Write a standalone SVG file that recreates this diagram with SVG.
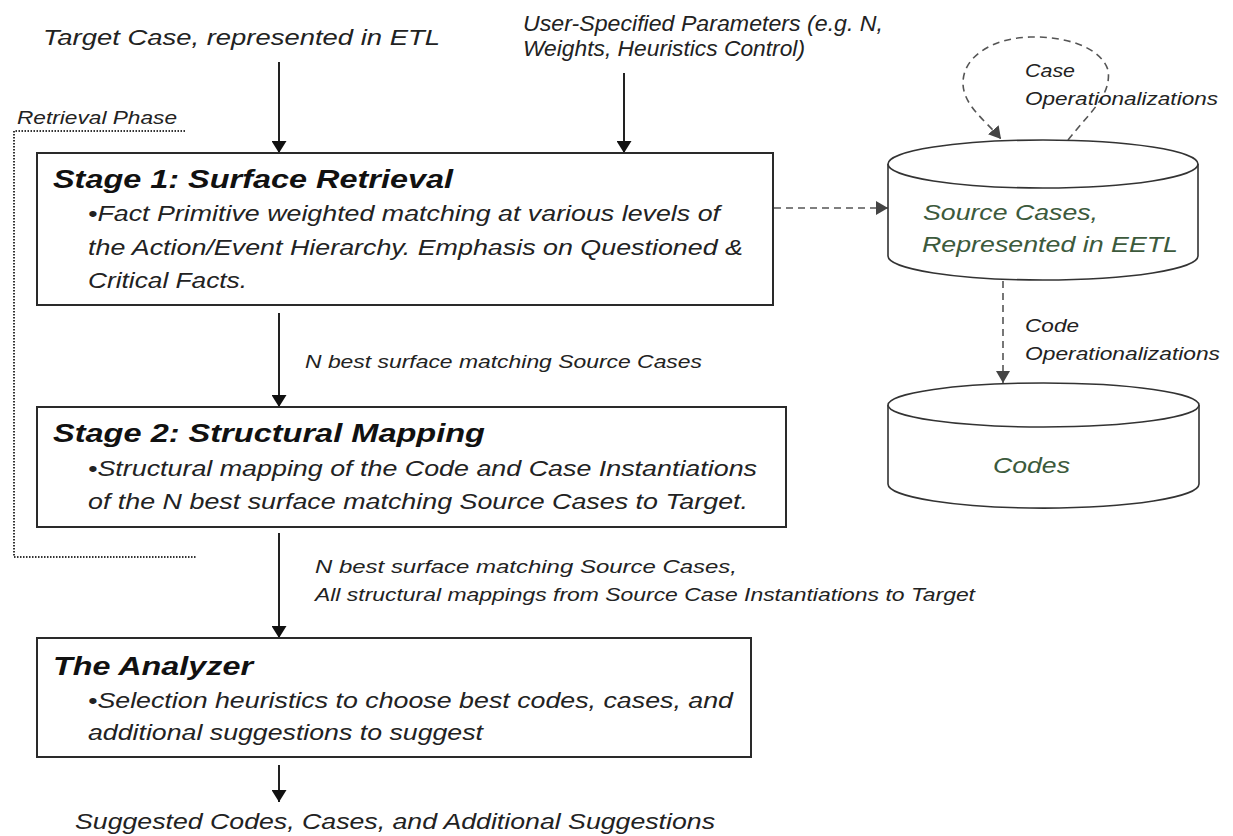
<svg xmlns="http://www.w3.org/2000/svg" width="1233" height="836" viewBox="0 0 1233 836">
<style>
text{font-family:"Liberation Sans",Arial,sans-serif;font-style:italic;fill:#222}
.lbl{font-size:22px}
.sm{font-size:19px}
.ttl{font-size:26px;font-weight:bold;fill:#111}
.body{font-size:22px}
.db{font-size:22px;fill:#3c5a3c}
.box{fill:#fff;stroke:#2a2a2a;stroke-width:2}
.cyl{fill:#fff;stroke:#333;stroke-width:1.6}
.arr{fill:none;stroke:#222;stroke-width:2;marker-end:url(#ah)}
.dash{fill:none;stroke:#555;stroke-width:1.6;stroke-dasharray:7,5;marker-end:url(#ahg)}
.dot{fill:none;stroke:#333;stroke-width:2;stroke-dasharray:1.5,1.5}
</style>
<defs>
<marker id="ah" markerUnits="userSpaceOnUse" markerWidth="12" markerHeight="15" refX="12" refY="7.5" orient="auto"><path d="M0,0 L12,7.5 L0,15 z" fill="#111"/></marker>
<marker id="ahg" markerUnits="userSpaceOnUse" markerWidth="12" markerHeight="14" refX="12" refY="7" orient="auto"><path d="M0,0 L12,7 L0,14 z" fill="#444"/></marker>
</defs>
<rect width="1233" height="836" fill="#fff"/>

<g id="inputs">
<text class="lbl" x="43" y="45" textLength="397" lengthAdjust="spacingAndGlyphs">Target Case, represented in ETL</text>
<text class="lbl" x="523" y="31" textLength="360" lengthAdjust="spacingAndGlyphs">User-Specified Parameters (e.g. N,</text>
<text class="lbl" x="523" y="56" textLength="282" lengthAdjust="spacingAndGlyphs">Weights, Heuristics Control)</text>
</g>

<g id="retrieval-phase">
<path class="dot" d="M185,131 H14 V557 H197"/>
<text class="sm" x="17" y="124" textLength="160" lengthAdjust="spacingAndGlyphs">Retrieval Phase</text>
</g>

<g id="connectors">
<line class="arr" x1="279" y1="62" x2="279" y2="153"/>
<line class="arr" x1="624" y1="73" x2="624" y2="153"/>
<line class="arr" x1="279" y1="313" x2="279" y2="407"/>
<line class="arr" x1="279" y1="533" x2="279" y2="638"/>
<line class="arr" x1="279" y1="765" x2="279" y2="802"/>
<line class="dash" x1="774" y1="208" x2="888" y2="208"/>
<path class="dash" d="M1068,140 C1090,112 1112,95 1108,70 C1100,45 1060,36 1030,37 C995,38 963,55 963,83 C963,105 985,120 1001,139"/>
<line class="dash" x1="1003" y1="281" x2="1003" y2="383"/>
<text class="sm" x="305" y="368" textLength="397" lengthAdjust="spacingAndGlyphs">N best surface matching Source Cases</text>
<text class="sm" x="315" y="573" textLength="422" lengthAdjust="spacingAndGlyphs">N best surface matching Source Cases,</text>
<text class="sm" x="315" y="601" textLength="660" lengthAdjust="spacingAndGlyphs">All structural mappings from Source Case Instantiations to Target</text>
<text class="sm" x="1025" y="77" textLength="50" lengthAdjust="spacingAndGlyphs">Case</text>
<text class="sm" x="1025" y="105" textLength="193" lengthAdjust="spacingAndGlyphs">Operationalizations</text>
<text class="sm" x="1025" y="332" textLength="54" lengthAdjust="spacingAndGlyphs">Code</text>
<text class="sm" x="1025" y="360" textLength="195" lengthAdjust="spacingAndGlyphs">Operationalizations</text>
</g>

<g id="stage1">
<rect class="box" x="37" y="153" width="736" height="152"/>
<text class="ttl" x="53" y="188" textLength="400" lengthAdjust="spacingAndGlyphs">Stage 1: Surface Retrieval</text>
<text class="body" x="88" y="221" textLength="632" lengthAdjust="spacingAndGlyphs">•Fact Primitive weighted matching at various levels of</text>
<text class="body" x="88" y="255" textLength="655" lengthAdjust="spacingAndGlyphs">the Action/Event Hierarchy. Emphasis on Questioned &amp;</text>
<text class="body" x="88" y="288" textLength="159" lengthAdjust="spacingAndGlyphs">Critical Facts.</text>
</g>

<g id="stage2">
<rect class="box" x="37" y="407" width="749" height="120"/>
<text class="ttl" x="53" y="442" textLength="432" lengthAdjust="spacingAndGlyphs">Stage 2: Structural Mapping</text>
<text class="body" x="88" y="476" textLength="669" lengthAdjust="spacingAndGlyphs">•Structural mapping of the Code and Case Instantiations</text>
<text class="body" x="88" y="509" textLength="660" lengthAdjust="spacingAndGlyphs">of the N best surface matching Source Cases to Target.</text>
</g>

<g id="analyzer">
<rect class="box" x="37" y="638" width="714" height="119"/>
<text class="ttl" x="53" y="675" textLength="200" lengthAdjust="spacingAndGlyphs">The Analyzer</text>
<text class="body" x="88" y="708" textLength="645" lengthAdjust="spacingAndGlyphs">•Selection heuristics to choose best codes, cases, and</text>
<text class="body" x="88" y="740" textLength="395" lengthAdjust="spacingAndGlyphs">additional suggestions to suggest</text>
</g>

<g id="output">
<text class="lbl" x="75" y="829" textLength="640" lengthAdjust="spacingAndGlyphs">Suggested Codes, Cases, and Additional Suggestions</text>
</g>

<g id="source-cases">
<path class="cyl" d="M888,164 V256 A155,24 0 0 0 1198,256 V164"/>
<ellipse class="cyl" cx="1043" cy="164" rx="155" ry="24"/>
<text class="db" x="923" y="220" textLength="175" lengthAdjust="spacingAndGlyphs">Source Cases,</text>
<text class="db" x="922" y="252" textLength="256" lengthAdjust="spacingAndGlyphs">Represented in EETL</text>
</g>

<g id="codes">
<path class="cyl" d="M888,405 V484 A155,24 0 0 0 1199,484 V405"/>
<ellipse class="cyl" cx="1043.5" cy="405" rx="155.5" ry="22"/>
<text class="db" x="993" y="473" textLength="77" lengthAdjust="spacingAndGlyphs">Codes</text>
</g>
</svg>
